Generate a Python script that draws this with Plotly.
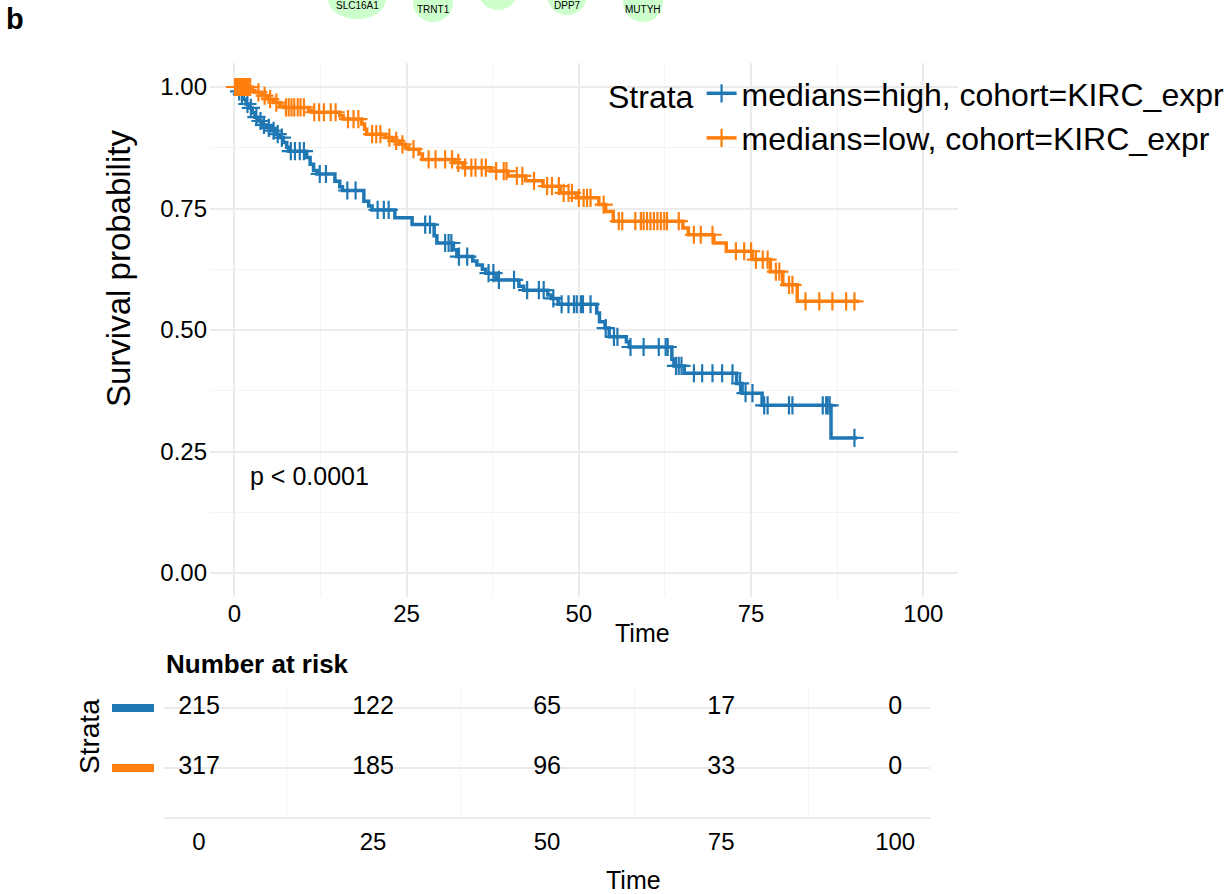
import numpy as np
import plotly.graph_objects as go

# ---------------- data ----------------
group_labels = ["medians=high, cohort=KIRC_expr", "medians=low, cohort=KIRC_expr"]
group_colors = ["#1F77B4", "#FF7F0E"]

# Kaplan-Meier step knots: event times and survival after each drop
times_high = [0.5, 0.9, 1.3, 1.7, 2.1, 2.6, 3.0, 3.5, 4.0, 4.7, 5.4, 6.0, 6.6, 7.1, 7.6,
              7.9, 10.5, 11.0, 11.5, 12.0, 14.6, 15.3, 15.7, 18.8, 19.5, 20.0, 23.3, 25.8,
              29.0, 29.4, 31.8, 32.3, 34.6, 35.2, 36.0, 36.5, 38.0, 41.3, 42.0, 45.5, 46.0,
              47.0, 52.6, 53.0, 53.8, 54.4, 56.9, 57.3, 63.5, 63.8, 65.3, 72.9, 73.7, 76.6, 86.6]
surv_high = [0.991, 0.985, 0.975, 0.965, 0.957, 0.947, 0.938, 0.930, 0.922, 0.916, 0.910,
             0.903, 0.896, 0.886, 0.876, 0.868, 0.855, 0.841, 0.828, 0.821, 0.806, 0.795,
             0.787, 0.765, 0.755, 0.747, 0.731, 0.717, 0.694, 0.679, 0.665, 0.651, 0.642,
             0.634, 0.625, 0.617, 0.603, 0.590, 0.582, 0.572, 0.565, 0.553, 0.535, 0.517,
             0.504, 0.486, 0.476, 0.465, 0.440, 0.426, 0.411, 0.390, 0.370, 0.345, 0.278]
end_high = 90.4
censor_high = [0.3, 0.7, 1.1, 1.9, 2.4, 3.2, 3.8, 4.3, 5.0, 5.7, 6.3, 6.9, 8.2, 8.8, 9.5, 10.1,
               12.4, 13.3, 16.4, 17.6, 20.8, 21.7, 22.4, 27.7, 28.4, 30.6, 31.1, 31.5, 32.6,
               33.8, 36.9, 37.6, 38.4, 40.6, 42.5, 44.2, 44.9, 46.3, 47.5, 48.5, 49.3, 49.7,
               50.3, 50.6, 51.7, 53.9, 55.1, 55.6, 57.5, 59.4, 61.6, 62.6, 62.9, 64.1, 64.5,
               64.9, 66.7, 67.9, 69.4, 70.8, 72.3, 73.4, 74.2, 75.2, 76.9, 77.4, 80.5, 81.0,
               85.4, 85.9, 86.1, 86.4, 90.0]

times_low = [2.6, 3.0, 4.0, 4.9, 5.7, 6.6, 7.2, 10.8, 11.2, 15.3, 15.8, 18.5, 18.9, 19.2, 21.9,
             23.0, 24.0, 24.8, 25.3, 26.8, 27.3, 32.0, 33.2, 37.2, 39.7, 42.3, 44.8, 47.3, 49.6,
             52.9, 53.9, 55.0, 65.1, 65.9, 69.6, 71.4, 75.2, 77.8, 79.6, 81.7]
surv_low = [0.993, 0.989, 0.982, 0.975, 0.968, 0.961, 0.958, 0.951, 0.948, 0.941, 0.934, 0.924,
            0.913, 0.903, 0.896, 0.889, 0.882, 0.876, 0.872, 0.862, 0.851, 0.844, 0.834, 0.827,
            0.817, 0.807, 0.796, 0.782, 0.772, 0.758, 0.744, 0.724, 0.710, 0.696, 0.679, 0.662,
            0.645, 0.620, 0.593, 0.559]
end_low = 90.7
censor_low = [0.1, 0.3, 0.5, 0.7, 0.9, 1.1, 1.4, 1.7, 2.0, 2.3, 3.5, 4.4, 5.2, 6.1, 7.5, 7.9,
              8.3, 8.7, 9.2, 9.6, 10.1, 11.6, 12.3, 13.0, 14.0, 14.7, 16.5, 17.3, 18.0, 20.0,
              20.6, 21.2, 22.5, 23.5, 24.4, 26.0, 28.2, 29.2, 30.6, 31.6, 32.5, 33.5, 34.4,
              35.0, 35.9, 36.5, 38.0, 39.1, 39.5, 41.0, 41.8, 43.5, 45.4, 46.1, 47.1, 47.8,
              48.5, 49.0, 50.0, 50.7, 51.2, 51.7, 53.6, 55.8, 56.3, 58.2, 59.0, 59.4, 59.9,
              60.4, 60.9, 61.4, 61.9, 62.4, 62.8, 64.5, 66.7, 67.7, 69.4, 72.8, 74.0, 75.0,
              75.7, 76.7, 77.4, 78.6, 79.1, 80.5, 81.0, 82.9, 84.9, 86.8, 88.8, 90.0]

x_ticks = [0, 25, 50, 75, 100]
y_ticks = [0.0, 0.25, 0.5, 0.75, 1.0]
y_ticklabels = ["0.00", "0.25", "0.50", "0.75", "1.00"]

risk_times = [0, 25, 50, 75, 100]
risk_high = [215, 122, 65, 17, 0]
risk_low = [317, 185, 96, 33, 0]

pval_text = "p < 0.0001"

gene_nodes = ["SLC16A1", "TRNT1", "", "DPP7", "MUTYH"]

# ---------------- figure ----------------
W, H = 1230, 894
FONT = "Liberation Sans, Arial, Helvetica, sans-serif"


def px_x(p):
    return p / W


def px_y(p):
    return 1 - p / H


def step_value(t, times, surv):
    idx = np.searchsorted(np.array(times), t, side="right")
    return 1.0 if idx == 0 else surv[idx - 1]


fig = go.Figure()

groups = [
    (times_high, surv_high, end_high, censor_high),
    (times_low, surv_low, end_low, censor_low),
]

for (tms, sv, end, cens), color, label in zip(groups, group_colors, group_labels):
    xs = [0.0] + list(tms) + [end]
    ys = [1.0] + list(sv) + [sv[-1]]
    fig.add_trace(go.Scatter(x=xs, y=ys, mode="lines", line=dict(color=color, width=3.5, shape="hv"),
                             showlegend=False, hoverinfo="skip", xaxis="x", yaxis="y"))
    cy = [step_value(c, tms, sv) for c in cens]
    fig.add_trace(go.Scatter(x=cens, y=cy, mode="markers",
                             marker=dict(symbol="cross-thin-open", size=13, color=color,
                                         line=dict(width=2.2, color=color)),
                             showlegend=False, hoverinfo="skip", xaxis="x", yaxis="y"))

# legend entries
for color, label in zip(group_colors, group_labels):
    fig.add_trace(go.Scatter(x=[None], y=[None], mode="lines+markers", name=label,
                             line=dict(color=color, width=3.5),
                             marker=dict(symbol="cross-thin-open", size=13, color=color,
                                         line=dict(width=2.2, color=color)),
                             xaxis="x", yaxis="y"))

# risk table numbers
row_pos = [2, 1]
for counts, rp in zip([risk_high, risk_low], row_pos):
    fig.add_trace(go.Scatter(x=risk_times, y=[rp] * len(risk_times), mode="text",
                             text=[str(c) for c in counts],
                             textfont=dict(size=25, color="black", family=FONT),
                             showlegend=False, hoverinfo="skip", cliponaxis=False,
                             xaxis="x2", yaxis="y2"))

grid_major = "#EBEBEB"
grid_minor = "#F4F4F4"

fig.update_layout(
    width=W, height=H,
    margin=dict(l=0, r=0, t=0, b=0),
    paper_bgcolor="white", plot_bgcolor="white",
    font=dict(family=FONT, color="black"),
    xaxis=dict(domain=[px_x(210), px_x(958)], range=[-3.53, 105.03], anchor="y",
               tickvals=x_ticks, ticks="", showgrid=True, gridcolor=grid_major, gridwidth=1.5,
               minor=dict(tickvals=[12.5, 37.5, 62.5, 87.5], showgrid=True,
                          gridcolor=grid_minor, gridwidth=1.3, ticks=""),
               zeroline=False, showline=False, tickfont=dict(size=24, color="black"),
               ticklabelstandoff=0),
    yaxis=dict(domain=[px_y(597.3), px_y(62.7)], range=[-0.05, 1.05], anchor="x",
               tickvals=y_ticks, ticktext=y_ticklabels, ticks="", showgrid=True,
               gridcolor=grid_major, gridwidth=1.5,
               minor=dict(tickvals=[0.125, 0.375, 0.625, 0.875], showgrid=True,
                          gridcolor=grid_minor, gridwidth=1.3, ticks=""),
               zeroline=False, showline=False, tickfont=dict(size=24, color="black"),
               ticklabelstandoff=2),
    xaxis2=dict(domain=[px_x(164), px_x(930)], range=[-5.03, 105.0], anchor="y2",
                tickvals=risk_times, ticks="", showgrid=False,
                minor=dict(tickvals=[12.5, 37.5, 62.5, 87.5], showgrid=True,
                           gridcolor=grid_minor, gridwidth=1.3, ticks=""),
                zeroline=False, showline=True, linecolor=grid_major, linewidth=2,
                tickfont=dict(size=24, color="black"), ticklabelstandoff=2),
    yaxis2=dict(domain=[px_y(817), px_y(688)], range=[0.183, 2.333], anchor="x2",
                tickvals=row_pos, showticklabels=False, ticks="", showgrid=True,
                gridcolor=grid_major, gridwidth=1.5, zeroline=False, showline=False),
    legend=dict(x=px_x(606), y=px_y(66), xanchor="left", yanchor="top",
                bgcolor="rgba(0,0,0,0)", font=dict(size=32, color="black"),
                title=dict(text="Strata", side="left", font=dict(size=32, color="black")),
                itemwidth=30, traceorder="normal"),
)


def ann(text, x, y, size, xanchor="center", yanchor="middle", **kw):
    d = dict(text=text, x=x, y=y, xref="paper", yref="paper", showarrow=False,
             xanchor=xanchor, yanchor=yanchor, font=dict(size=size, color="black"))
    d.update(kw)
    return d


annotations = [
    ann("Survival probability", px_x(118), px_y(269), 33, textangle=-90),
    ann("Time", px_x(642), px_y(633), 25),
    dict(text=pval_text, x=2.0, y=0.2, xref="x", yref="y", xanchor="left", yanchor="middle",
         showarrow=False, font=dict(size=25, color="black")),
    ann("<b>Number at risk</b>", px_x(164), px_y(664), 26, xanchor="left"),
    ann("Strata", px_x(89), px_y(737), 28, textangle=-90),
    ann("Time", px_x(633), px_y(880), 25),
    ann("<b>b</b>", px_x(4), px_y(19), 29, xanchor="left"),
]

shapes = []
# cropped network nodes at the top (from the figure panel above)
node_cx = [357, 433, 498, 567, 643]
node_cy = [-1, 2, -10, -5, 2]
node_w = [58, 40, 40, 40, 40]
node_h = [40, 40, 40, 40, 40]
node_label_y = [6, 9, -4, 6, 10]
for name, cx, cy, w, h, ly in zip(gene_nodes, node_cx, node_cy, node_w, node_h, node_label_y):
    shapes.append(dict(type="circle", xref="paper", yref="paper",
                       x0=px_x(cx - w / 2), x1=px_x(cx + w / 2),
                       y0=px_y(cy + h / 2), y1=px_y(cy - h / 2),
                       fillcolor="#CCFFCC", line=dict(width=0), layer="below"))
    if name:
        annotations.append(ann(name, px_x(cx), px_y(ly), 10))

# colored strata bars on the risk table
for rp, color in zip(row_pos, group_colors):
    shapes.append(dict(type="rect", xref="paper", yref="y2",
                       x0=px_x(112), x1=px_x(154), y0=rp - 4 / 60, y1=rp + 4 / 60,
                       fillcolor=color, line=dict(width=0)))

fig.update_layout(annotations=annotations, shapes=shapes)

fig.write_html("out.html", config={"displayModeBar": False},
               post_script="document.body.style.margin='0';document.body.style.overflow='hidden';")
